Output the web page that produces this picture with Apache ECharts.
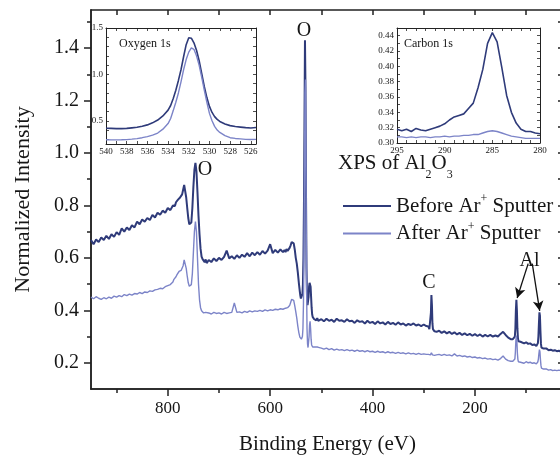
<!DOCTYPE html>
<html><head><meta charset="utf-8">
<script src="https://cdn.jsdelivr.net/npm/echarts@6/dist/echarts.min.js"></script>
<style>html,body{margin:0;padding:0;overflow:hidden;background:#fff;width:560px;height:460px}#c{width:600px;height:460px}</style>
</head><body><div id="c"></div><script>
// ---------- main survey spectrum ----------
const energy = [
 950,945,940,935,930,925,920,915,910,905,900,895,890,885,880,875,870,865,860,855,850,845,840,835,830,825,820,815,810,805,800,795,790,
 788,786,784,782,780,778,776,774,772,770,768,766,764,762,760,758,756,754,752,750,748,746,744,742,740,738,736,734,732,730,728,726,724,
 720,715,710,705,700,695,690,685,680,675,670,665,660,655,650,645,640,635,630,625,620,615,610,605,600,595,590,585,580,575,
 572,570,568,566,564,562,560,558,556,554,552,550,548,546,544,542,
 541,540,539,538,537,536,535,534,533,532,531,530,529,528,527,526,525,524,523,522,521,520,519,518,517,516,515,514,
 512,510,508,506,504,
 500,495,490,485,480,475,470,465,460,455,450,445,440,435,430,425,420,415,410,405,400,395,390,385,380,375,370,365,360,355,350,345,340,335,330,325,320,315,310,305,300,295,
 292,291,290,289,288,287,286,285,284,283,282,281,280,279,278,
 275,270,265,260,255,250,245,240,235,230,225,220,215,210,205,200,195,190,185,180,175,170,165,160,155,150,145,140,135,130,
 128,127,126,125,124,123,122,121,120,119,118,117,116,115,114,113,112,111,110,
 108,104,100,96,92,88,84,
 82,81,80,79,78,77,76,75,74,73,72,71,70,69,68,67,66,
 64,60,56,52,48,44,40,36,32,28
];
const beforeSputter = [
 0.668,0.652,0.670,0.660,0.678,0.668,0.684,0.672,0.690,0.680,0.698,0.688,0.712,0.700,0.716,0.706,0.724,0.716,0.738,0.728,0.746,0.738,0.752,0.744,0.764,0.754,0.772,0.764,0.780,0.772,0.790,0.782,0.800,
 0.806,0.798,0.812,0.808,0.822,0.816,0.830,0.826,0.842,0.860,0.878,0.872,0.830,0.790,0.752,0.728,0.722,0.735,0.790,0.870,0.935,0.962,0.930,0.850,0.760,0.690,0.635,0.605,0.595,0.590,0.584,0.594,0.580,
 0.592,0.584,0.598,0.588,0.600,0.592,0.604,0.628,0.598,0.606,0.596,0.610,0.600,0.612,0.604,0.618,0.606,0.620,0.610,0.622,0.612,0.626,0.616,0.628,0.652,0.618,0.630,0.620,0.632,0.622,
 0.630,0.622,0.634,0.626,0.630,0.638,0.648,0.660,0.665,0.655,0.632,0.600,0.578,0.545,0.505,0.470,
 0.455,0.445,0.440,0.445,0.462,0.500,0.600,0.800,1.100,1.430,1.250,0.850,0.560,0.450,0.420,0.425,0.450,0.490,0.505,0.508,0.490,0.450,0.410,0.385,0.375,0.370,0.372,0.366,
 0.372,0.362,0.370,0.360,0.366,
 0.366,0.358,0.368,0.360,0.364,0.356,0.368,0.360,0.362,0.356,0.366,0.358,0.360,0.352,0.362,0.356,0.358,0.350,0.360,0.352,0.356,0.348,0.358,0.350,0.354,0.346,0.356,0.348,0.352,0.345,0.354,0.346,0.350,0.342,0.348,0.344,0.350,0.342,0.346,0.340,0.346,0.340,
 0.342,0.338,0.334,0.328,0.326,0.335,0.390,0.458,0.420,0.350,0.328,0.322,0.326,0.320,0.324,
 0.318,0.322,0.314,0.320,0.312,0.318,0.310,0.316,0.308,0.314,0.306,0.312,0.305,0.310,0.303,0.309,0.302,0.308,0.300,0.306,0.301,0.306,0.300,0.304,0.300,0.310,0.318,0.306,0.296,0.290,
 0.292,0.288,0.290,0.286,0.288,0.292,0.300,0.330,0.400,0.440,0.400,0.330,0.295,0.282,0.280,0.282,0.278,0.280,0.276,
 0.278,0.274,0.278,0.272,0.274,0.268,0.270,
 0.266,0.268,0.264,0.266,0.268,0.275,0.300,0.350,0.392,0.380,0.320,0.272,0.258,0.255,0.256,0.252,0.254,
 0.252,0.254,0.248,0.250,0.246,0.248,0.244,0.246,0.242,0.242
];
const afterSputter = [
 0.450,0.444,0.452,0.446,0.442,0.448,0.444,0.450,0.446,0.454,0.450,0.456,0.452,0.460,0.456,0.462,0.458,0.464,0.462,0.468,0.464,0.470,0.468,0.474,0.472,0.478,0.480,0.484,0.482,0.490,0.494,0.498,0.508,
 0.518,0.524,0.528,0.536,0.540,0.548,0.546,0.552,0.556,0.570,0.592,0.590,0.560,0.530,0.505,0.492,0.490,0.498,0.540,0.620,0.700,0.738,0.700,0.600,0.500,0.440,0.410,0.398,0.392,0.390,0.388,0.392,0.386,
 0.390,0.386,0.392,0.388,0.390,0.386,0.392,0.388,0.390,0.392,0.428,0.392,0.394,0.390,0.396,0.392,0.398,0.394,0.398,0.396,0.400,0.396,0.402,0.398,0.402,0.400,0.404,0.402,0.406,0.404,
 0.406,0.408,0.406,0.410,0.412,0.418,0.430,0.442,0.446,0.438,0.418,0.395,0.370,0.340,0.315,0.298,
 0.296,0.292,0.290,0.292,0.300,0.330,0.420,0.620,0.920,1.230,1.280,0.900,0.520,0.330,0.272,0.258,0.262,0.300,0.345,0.358,0.330,0.290,0.268,0.262,0.260,0.258,0.262,0.258,
 0.260,0.256,0.260,0.256,0.258,
 0.256,0.252,0.256,0.250,0.254,0.248,0.252,0.248,0.250,0.246,0.250,0.246,0.248,0.244,0.248,0.244,0.246,0.242,0.246,0.242,0.244,0.240,0.244,0.240,0.242,0.238,0.242,0.238,0.240,0.236,0.240,0.236,0.238,0.234,0.238,0.234,0.236,0.232,0.236,0.232,0.234,0.232,
 0.234,0.232,0.234,0.230,0.232,0.230,0.234,0.238,0.234,0.230,0.232,0.228,0.230,0.228,0.230,
 0.230,0.232,0.228,0.232,0.228,0.230,0.226,0.234,0.226,0.228,0.224,0.226,0.222,0.224,0.220,0.222,0.218,0.220,0.216,0.218,0.214,0.216,0.212,0.214,0.210,0.216,0.226,0.214,0.208,0.206,
 0.206,0.204,0.206,0.204,0.206,0.208,0.214,0.240,0.285,0.304,0.280,0.235,0.212,0.204,0.202,0.204,0.200,0.202,0.200,
 0.202,0.198,0.204,0.200,0.202,0.198,0.200,
 0.198,0.200,0.196,0.198,0.200,0.204,0.215,0.235,0.250,0.242,0.212,0.190,0.180,0.176,0.178,0.174,0.176,
 0.174,0.176,0.172,0.174,0.170,0.172,0.170,0.172,0.170,0.171
];
// ---------- Oxygen 1s inset ----------
const oxyEnergy = [540,539.5,539,538.5,538,537.5,537,536.5,536,535.5,535,534.5,534,533.75,533.5,533.25,533,532.75,532.5,532.25,532,531.75,531.5,531.25,531,530.75,530.5,530.25,530,529.75,529.5,529.25,529,528.5,528,527.5,527,526.5,526,525.5];
const oxyBefore = [0.420,0.418,0.416,0.416,0.418,0.424,0.430,0.442,0.456,0.478,0.508,0.552,0.615,0.665,0.740,0.830,0.935,1.050,1.190,1.320,1.395,1.390,1.340,1.260,1.150,1.010,0.870,0.750,0.655,0.590,0.545,0.515,0.493,0.466,0.448,0.438,0.432,0.426,0.422,0.428];
const oxyAfter = [0.296,0.294,0.294,0.295,0.297,0.302,0.308,0.318,0.330,0.346,0.368,0.410,0.470,0.525,0.610,0.700,0.800,0.920,1.050,1.160,1.240,1.285,1.270,1.200,1.100,0.970,0.830,0.700,0.580,0.500,0.440,0.400,0.375,0.340,0.318,0.310,0.305,0.300,0.298,0.300];
// ---------- Carbon 1s inset ----------
const carbonEnergy = [295,294.5,294,293.5,293,292.5,292,291.5,291,290.5,290,289.5,289,288.5,288,287.5,287,286.5,286,285.5,285,284.5,284,283.5,283,282.5,282,281.5,281,280.5,280];
const carbonBefore = [0.318,0.316,0.318,0.315,0.319,0.317,0.316,0.318,0.320,0.322,0.325,0.330,0.334,0.336,0.338,0.345,0.352,0.372,0.396,0.430,0.444,0.432,0.398,0.362,0.340,0.326,0.318,0.315,0.315,0.313,0.312];
const carbonAfter = [0.308,0.308,0.307,0.308,0.307,0.308,0.308,0.307,0.308,0.308,0.309,0.308,0.309,0.309,0.310,0.310,0.311,0.311,0.313,0.315,0.316,0.315,0.313,0.311,0.309,0.308,0.307,0.306,0.306,0.306,0.306];
// ---------- ticks ----------
const xMajorTicks = [200,400,600,800];
const xMinorTicks = [100,300,500,700,900];
const xAllTicks = [100,200,300,400,500,600,700,800,900];
const yMajorTicks = [0.2,0.4,0.6,0.8,1.0,1.2,1.4];
const yMinorTicks = [0.3,0.5,0.7,0.9,1.1,1.3,1.5];
const yAllTicks = [0.2,0.3,0.4,0.5,0.6,0.7,0.8,0.9,1.0,1.1,1.2,1.3,1.4,1.5];
const oxyXLabels = [526,528,530,532,534,536,538,540];
const oxyXTicks = [526,527,528,529,530,531,532,533,534,535,536,537,538,539,540];
const oxyYLabels = [0.5,1.0,1.5];
const oxyYTicks = [0.3,0.4,0.5,0.6,0.7,0.8,0.9,1.0,1.1,1.2,1.3,1.4,1.5];
const carbonXLabels = [280,285,290,295];
const carbonXTicks = [280,281,282,283,284,285,286,287,288,289,290,291,292,293,294,295];
const carbonYLabels = [0.30,0.32,0.34,0.36,0.38,0.40,0.42,0.44];
const carbonYTicks = [0.30,0.31,0.32,0.33,0.34,0.35,0.36,0.37,0.38,0.39,0.40,0.41,0.42,0.43,0.44,0.45];

const FONT = '"Liberation Serif","Times New Roman",serif';
const TXT = '#161616';
const AX = '#222';
const DARK = '#2f3b7a';
const LIGHT = '#7c84c8';

function pairs(xs, ys){ return xs.map((x,i)=>[x, ys[i]]); }
function axis(o){
  const base = {type:'value', splitLine:{show:false},
    axisLine:{show:true, onZero:false, lineStyle:{color:AX, width:o.lw||1.5}},
    axisTick:{show:false}, axisLabel:{show:false}};
  delete o.lw;
  return Object.assign(base, o);
}
function ticks(vals, len, inside, w){ return {show:true, inside:inside, length:len, customValues:vals, lineStyle:{color:AX, width:w||1.2}}; }
function labels(vals, size, margin, fmt){ return {show:true, customValues:vals, fontSize:size, fontFamily:FONT, color:TXT, margin:margin, formatter:fmt}; }

const mainX = {gridIndex:0, min:26, max:950, inverse:true};
const mainY = {gridIndex:0, min:0.1, max:1.545};
const oxX = {gridIndex:1, min:525.5, max:540, inverse:true};
const oxY = {gridIndex:1, min:0.25, max:1.5};
const cX = {gridIndex:2, min:280, max:295, inverse:true};
const cY = {gridIndex:2, min:0.30, max:0.45};

const option = {
  animation:false,
  backgroundColor:'#fff',
  grid:[
    {left:91, top:10, width:473, height:383, show:false},
    {left:106, top:28, width:150, height:116, show:true, backgroundColor:'#fff', borderWidth:0},
    {left:397, top:28, width:143, height:115, show:true, backgroundColor:'#fff', borderWidth:0}
  ],
  xAxis:[
    axis(Object.assign({position:'bottom', axisTick:ticks(xMajorTicks,7,false,1.5),
      axisLabel:labels(xMajorTicks,17,11,v=>String(v)),
      name:'Binding Energy (eV)', nameLocation:'middle', nameGap:45,
      nameTextStyle:{fontSize:21, fontFamily:FONT, color:TXT}}, mainX)),
    axis(Object.assign({position:'bottom', axisTick:ticks(xMinorTicks,4,false,1.5)}, mainX)),
    axis(Object.assign({position:'top', axisTick:ticks(xAllTicks,5,true,1.5)}, mainX)),
    axis(Object.assign({position:'bottom', lw:1, axisTick:ticks(oxyXTicks,3,true,0.8),
      axisLabel:labels(oxyXLabels,9,3,v=>String(v))}, oxX)),
    axis(Object.assign({position:'top', lw:1, axisTick:ticks(oxyXTicks,3,true,0.8)}, oxX)),
    axis(Object.assign({position:'bottom', lw:1, axisTick:ticks(carbonXTicks,3,true,0.8),
      axisLabel:labels(carbonXLabels,9,3,v=>String(v))}, cX)),
    axis(Object.assign({position:'top', lw:1, axisTick:ticks(carbonXTicks,3,true,0.8)}, cX))
  ],
  yAxis:[
    axis(Object.assign({position:'left', axisTick:ticks(yMajorTicks,7,false,1.5),
      axisLabel:labels(yMajorTicks,20,12,v=>v.toFixed(1)),
      name:'Normalized Intensity', nameLocation:'middle', nameGap:57,
      nameTextStyle:{fontSize:22, fontFamily:FONT, color:TXT}}, mainY)),
    axis(Object.assign({position:'left', axisTick:ticks(yMinorTicks,4,false,1.5)}, mainY)),
    axis(Object.assign({position:'right', axisTick:ticks(yAllTicks,6,true,1.5)}, mainY)),
    axis(Object.assign({position:'left', lw:1, axisTick:ticks(oxyYTicks,3,true,0.8),
      axisLabel:labels(oxyYLabels,9,3,v=>v.toFixed(1))}, oxY)),
    axis(Object.assign({position:'right', lw:1, axisTick:ticks(oxyYTicks,3,true,0.8)}, oxY)),
    axis(Object.assign({position:'left', lw:1, axisTick:ticks(carbonYTicks,3,true,0.8),
      axisLabel:labels(carbonYLabels,9,3,v=>v.toFixed(2))}, cY)),
    axis(Object.assign({position:'right', lw:1, axisTick:ticks(carbonYTicks,3,true,0.8)}, cY))
  ],
  legend:{
    orient:'vertical', left:338, top:188, itemWidth:48, itemHeight:2, itemGap:4, icon:'rect',
    selectedMode:false, data:['before','after'],
    formatter:n => n==='before' ? '{t|Before Ar}{s|+}{t| Sputter}' : '{t|After Ar}{s|+}{t| Sputter}',
    textStyle:{fontFamily:FONT, fontSize:21, color:TXT,
      rich:{t:{fontFamily:FONT, fontSize:21, color:TXT, lineHeight:26},
            s:{fontFamily:FONT, fontSize:12, color:TXT, verticalAlign:'top'}}}
  },
  graphic:[
    {type:'text', left:338, top:153, z:10, style:{text:'{t|XPS of Al}{b|2}{t|O}{b|3}', fill:TXT,
      rich:{t:{fontFamily:FONT, fontSize:21, fill:TXT, color:TXT, lineHeight:22, verticalAlign:'top'},
            b:{fontFamily:FONT, fontSize:12, fill:TXT, color:TXT, lineHeight:28, verticalAlign:'bottom'}}}},
    {type:'text', x:205, y:170, z:10, style:{text:'O', font:'20px '+FONT, fill:TXT, align:'center', verticalAlign:'middle'}},
    {type:'text', x:304, y:31, z:10, style:{text:'O', font:'20px '+FONT, fill:TXT, align:'center', verticalAlign:'middle'}},
    {type:'text', x:429, y:283, z:10, style:{text:'C', font:'20px '+FONT, fill:TXT, align:'center', verticalAlign:'middle'}},
    {type:'text', x:529.5, y:260.5, z:10, style:{text:'Al', font:'20px '+FONT, fill:TXT, align:'center', verticalAlign:'middle'}},
    {type:'text', x:119, y:44, z:10, style:{text:'Oxygen 1s', font:'12px '+FONT, fill:TXT, align:'left', verticalAlign:'middle'}},
    {type:'text', x:404, y:44, z:10, style:{text:'Carbon 1s', font:'12px '+FONT, fill:TXT, align:'left', verticalAlign:'middle'}}
  ],
  series:[
    {name:'before', type:'line', xAxisIndex:0, yAxisIndex:0, symbol:'none', data:pairs(energy,beforeSputter),
      lineStyle:{color:DARK, width:2}, itemStyle:{color:DARK}, z:2,
      markLine:{silent:true, symbol:['none','arrow'], symbolSize:[8,10], label:{show:false},
        lineStyle:{color:'#111', width:1.3, type:'solid'},
        data:[[{coord:[96,0.578]},{coord:[117.5,0.447]}],[{coord:[88,0.578]},{coord:[73.5,0.398]}]]}},
    {name:'after', type:'line', xAxisIndex:0, yAxisIndex:0, symbol:'none', data:pairs(energy,afterSputter),
      lineStyle:{color:LIGHT, width:1.4}, itemStyle:{color:LIGHT}, z:3},
    {name:'before', type:'line', xAxisIndex:3, yAxisIndex:3, symbol:'none', data:pairs(oxyEnergy,oxyBefore),
      lineStyle:{color:DARK, width:1.6}, itemStyle:{color:DARK}},
    {name:'after', type:'line', xAxisIndex:3, yAxisIndex:3, symbol:'none', data:pairs(oxyEnergy,oxyAfter),
      lineStyle:{color:LIGHT, width:1.4}, itemStyle:{color:LIGHT}},
    {name:'before', type:'line', xAxisIndex:5, yAxisIndex:5, symbol:'none', data:pairs(carbonEnergy,carbonBefore),
      lineStyle:{color:DARK, width:1.6}, itemStyle:{color:DARK}},
    {name:'after', type:'line', xAxisIndex:5, yAxisIndex:5, symbol:'none', data:pairs(carbonEnergy,carbonAfter),
      lineStyle:{color:LIGHT, width:1.4}, itemStyle:{color:LIGHT}}
  ]
};
const chart = echarts.init(document.getElementById('c'), null, {renderer:'canvas'});
chart.setOption(option);
</script></body></html>
